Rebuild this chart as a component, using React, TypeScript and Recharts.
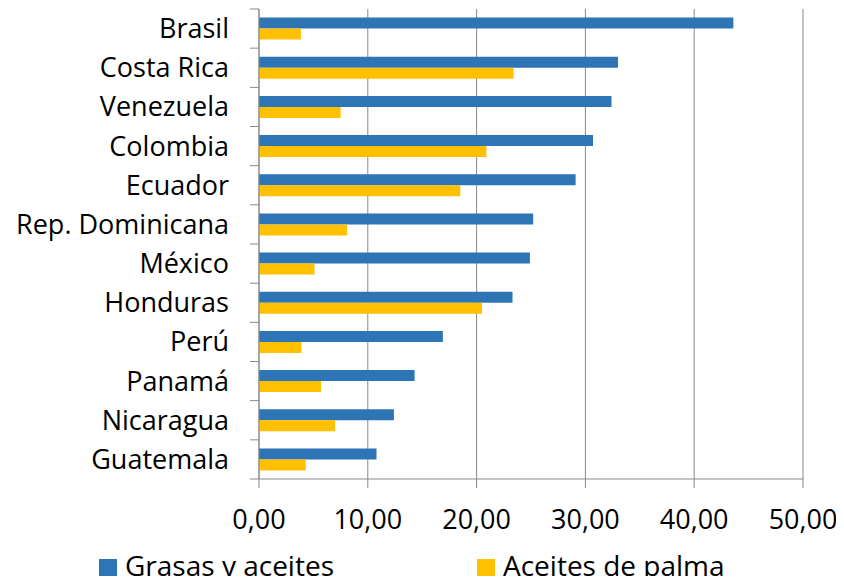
import React from 'react';
import { BarChart, Bar, XAxis, YAxis, CartesianGrid } from 'recharts';

const paises = [
  'Brasil', 'Costa Rica', 'Venezuela', 'Colombia', 'Ecuador', 'Rep. Dominicana',
  'México', 'Honduras', 'Perú', 'Panamá', 'Nicaragua', 'Guatemala',
];
const grasasYAceites = [43.6, 33.0, 32.4, 30.7, 29.1, 25.2, 24.9, 23.3, 16.9, 14.3, 12.4, 10.8];
const aceitesDePalma = [3.85, 23.4, 7.5, 20.9, 18.5, 8.1, 5.1, 20.5, 3.9, 5.7, 7.0, 4.3];
const xTicks = [0, 10, 20, 30, 40, 50];
const series = [
  { key: 'grasas', name: 'Grasas y aceites', color: '#2E75B6' },
  { key: 'palma', name: 'Aceites de palma', color: '#FFC000' },
];

const data = paises.map((name, i) => ({
  name,
  grasas: grasasYAceites[i],
  palma: aceitesDePalma[i],
}));

const FONT = '"Open Sans", sans-serif';
const AXIS_COLOR = '#898989';
// plot area is 470px tall, 12 categories
const BAND = 470 / 12;

function CountryTick(props: any) {
  const { x, y, payload, index } = props;
  const axisX = x + 8;
  return (
    <g>
      <line x1={axisX - 9} x2={axisX} y1={y - BAND / 2} y2={y - BAND / 2} stroke={AXIS_COLOR} />
      {index === paises.length - 1 && (
        <line x1={axisX - 9} x2={axisX} y1={y + BAND / 2} y2={y + BAND / 2} stroke={AXIS_COLOR} />
      )}
      <text x={axisX - 30} y={y + 9.5} textAnchor="end" fill="#000" fontSize={27} fontFamily={FONT}>
        {payload.value}
      </text>
    </g>
  );
}

function LegendBox() {
  const lefts = [99, 477];
  return (
    <div style={{ position: 'absolute', left: 0, top: 550, width: 844, height: 30 }}>
      {series.map((s, i) => (
        <div
          key={s.key}
          style={{ position: 'absolute', left: lefts[i], top: 0, display: 'flex', alignItems: 'flex-start' }}
        >
          <span
            style={{ width: 18, height: 18, background: s.color, display: 'inline-block', marginTop: 9, marginRight: 8 }}
          />
          <span style={{ fontSize: 28, fontFamily: FONT, color: '#000', lineHeight: '30px', whiteSpace: 'nowrap' }}>
            {s.name}
          </span>
        </div>
      ))}
    </div>
  );
}

export default function App() {
  return (
    <div style={{ margin: '-8px', width: 844, height: 584, background: '#fff', position: 'relative', overflow: 'hidden' }}>
      <BarChart
        width={844}
        height={584}
        data={data}
        layout="vertical"
        margin={{ top: 9, right: 41, bottom: 45, left: 0 }}
        barCategoryGap="22%"
        barGap={0}
      >
        <CartesianGrid horizontal={false} stroke={AXIS_COLOR} strokeWidth={1} />
        <XAxis
          type="number"
          domain={[0, 50]}
          ticks={xTicks}
          tickFormatter={(v: number) => v.toFixed(2).replace('.', ',')}
          stroke={AXIS_COLOR}
          tickSize={9}
          tickMargin={22}
          height={60}
          tick={{ fill: '#000', fontSize: 27, fontFamily: FONT }}
        />
        <YAxis
          type="category"
          dataKey="name"
          width={259}
          stroke={AXIS_COLOR}
          tickLine={false}
          interval={0}
          tick={<CountryTick />}
        />
        {series.map((s) => (
          <Bar key={s.key} dataKey={s.key} name={s.name} fill={s.color} isAnimationActive={false} />
        ))}
      </BarChart>
      <LegendBox />
    </div>
  );
}
